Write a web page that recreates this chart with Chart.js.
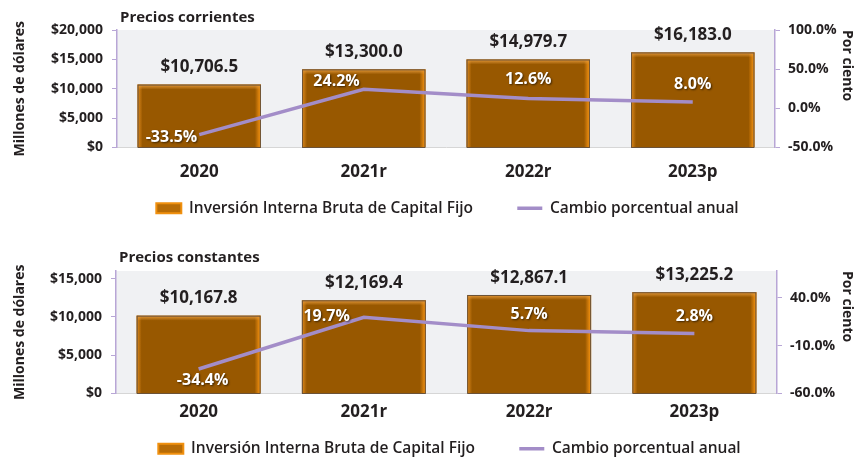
<!DOCTYPE html>
<html>
<head>
<meta charset="utf-8">
<script src="https://cdn.jsdelivr.net/npm/chart.js@4.4.1/dist/chart.umd.min.js"></script>
<style>
  html, body { margin: 0; padding: 0; background: #fff; overflow: hidden; width: 857px; height: 461px; }
  .box { position: absolute; left: 0; width: 895px; }
</style>
</head>
<body>
<div class="box" style="top:0;height:230px"><canvas id="chartCorrientes"></canvas></div>
<div class="box" style="top:230px;height:240px"><canvas id="chartConstantes"></canvas></div>
<script>
const categories = ['2020', '2021r', '2022r', '2023p'];

const corrientes = [10706.5, 13300.0, 14979.7, 16183.0];
const corrientesPct = [-33.5, 24.2, 12.6, 8.0];
const corrientesTicks = [0, 5000, 10000, 15000, 20000];
const corrientesPctTicks = [-50, 0, 50, 100];

const constantes = [10167.8, 12169.4, 12867.1, 13225.2];
const constantesPct = [-34.4, 19.7, 5.7, 2.8];
const constantesTicks = [0, 5000, 10000, 15000];
const constantesPctTicks = [-60, -10, 40];

const barLabel = 'Inversión Interna Bruta de Capital Fijo';
const lineLabel = 'Cambio porcentual anual';

const FONT = '"Open Sans", "DejaVu Sans", sans-serif';
const DARK = '#231f20';
const PURPLE = '#a38dc8';
const AXIS = '#b8a6d6';

// bevel look of the excel bars, drawn over each bar element
function bevelBars(chart, meta) {
    const ctx = chart.ctx;
    meta.data.forEach(function (bar) {
        const l = bar.x - bar.width / 2, r = bar.x + bar.width / 2;
        const t = Math.min(bar.y, bar.base), b = Math.max(bar.y, bar.base);
        ctx.save();
        let g = ctx.createLinearGradient(r - 6, 0, r, 0);
        g.addColorStop(0, 'rgba(255,150,20,0)');
        g.addColorStop(1, '#ff9a12');
        ctx.fillStyle = g;
        ctx.fillRect(r - 6, t, 6, b - t);
        g = ctx.createLinearGradient(l, 0, l + 5, 0);
        g.addColorStop(0, '#e08a1c');
        g.addColorStop(1, 'rgba(224,138,28,0)');
        ctx.fillStyle = g;
        ctx.fillRect(l, t, 5, b - t);
        g = ctx.createLinearGradient(0, t, 0, t + 5);
        g.addColorStop(0, '#e69a3a');
        g.addColorStop(1, 'rgba(230,154,58,0)');
        ctx.fillStyle = g;
        ctx.fillRect(l, t, r - l, 5);
        ctx.strokeStyle = '#6b5238';
        ctx.lineWidth = 1;
        ctx.strokeRect(l + 0.5, t + 0.5, r - l - 1, b - t);
        ctx.restore();
    });
}

const decoPlugin = {
    id: 'deco',
    afterLayout(chart, args, opts) {
        // the legend in the original sits a bit right of the canvas centre
        const lg = chart.legend;
        if (lg && !lg._shifted) {
            const draw = lg.draw;
            lg.draw = function () {
                chart.ctx.save();
                chart.ctx.translate(opts.legendShift, 0);
                draw.apply(this, arguments);
                chart.ctx.restore();
            };
            lg._shifted = true;
        }
    },
    beforeDraw(chart, args, opts) {
        const a = chart.chartArea, ctx = chart.ctx;
        ctx.save();
        ctx.fillStyle = '#f0f1f3';
        ctx.fillRect(a.left, a.top, a.right - a.left, a.bottom - a.top);
        ctx.fillStyle = DARK;
        ctx.font = 'bold 15px ' + FONT;
        ctx.textBaseline = 'middle';
        ctx.textAlign = 'left';
        ctx.fillText(opts.title, a.left + 3, opts.titleY);
        ctx.restore();
    },
    afterDatasetDraw(chart, args) {
        if (args.meta.type === 'bar') bevelBars(chart, args.meta);
    },
    afterDatasetsDraw(chart, args, opts) {
        const ctx = chart.ctx;
        const bars = chart.getDatasetMeta(0).data;
        const pts = chart.getDatasetMeta(1).data;
        const barVals = chart.data.datasets[0].data;
        const pctVals = chart.data.datasets[1].data;
        ctx.save();
        ctx.textBaseline = 'middle';
        ctx.font = 'bold 17px ' + FONT;
        ctx.fillStyle = DARK;
        ctx.textAlign = 'center';
        bars.forEach(function (bar, i) {
            const txt = '$' + barVals[i].toLocaleString('en-US', { minimumFractionDigits: 1, maximumFractionDigits: 1 });
            ctx.fillText(txt, bar.x, bar.y - 17);
        });
        ctx.font = 'bold 16px ' + FONT;
        ctx.fillStyle = '#fff';
        ctx.shadowColor = 'rgba(0,0,0,0.6)';
        ctx.shadowOffsetX = 1;
        ctx.shadowOffsetY = 1;
        ctx.shadowBlur = 2;
        pts.forEach(function (p, i) {
            const place = opts.pctPlace[i];
            ctx.textAlign = place[0];
            ctx.fillText(pctVals[i].toFixed(1) + '%', p.x + place[1], p.y + place[2]);
        });
        ctx.restore();
    }
};

function makeChart(id, cfg) {
    const ctx = document.getElementById(id);
    return new Chart(ctx.getContext('2d'), {
        type: 'bar',
        data: {
            labels: categories,
            datasets: [{
                label: barLabel,
                data: cfg.values,
                backgroundColor: '#985800',
                borderColor: '#e8890f',
                borderWidth: 0,
                barPercentage: 0.75,
                categoryPercentage: 1,
                pointStyle: 'rect',
                order: 1,
                yAxisID: 'y'
            }, {
                type: 'line',
                label: lineLabel,
                data: cfg.pct,
                borderColor: PURPLE,
                backgroundColor: PURPLE,
                borderWidth: 3.5,
                pointRadius: 0,
                pointStyle: 'line',
                tension: 0,
                order: 0,
                yAxisID: 'y1'
            }]
        },
        options: {
            responsive: true,
            maintainAspectRatio: false,
            animation: false,
            devicePixelRatio: 1,
            layout: { padding: { top: cfg.top, right: 40, bottom: cfg.bottomPad, left: 0 } },
            scales: {
                x: {
                    grid: { display: false, drawTicks: false },
                    border: { color: '#d6d6d6', width: 1 },
                    ticks: { color: DARK, font: { family: FONT, size: 17, weight: 'bold' }, padding: cfg.xPad },
                    afterFit: function (s) { s.height = cfg.xHeight; }
                },
                y: {
                    position: 'left',
                    min: 0,
                    max: cfg.yMax,
                    afterBuildTicks: function (s) { s.ticks = cfg.ticks.map(v => ({ value: v })); },
                    grid: { drawOnChartArea: false, color: AXIS, tickLength: 5, tickColor: AXIS },
                    border: { color: AXIS, width: 1.5 },
                    ticks: {
                        color: DARK, padding: 9,
                        font: { family: FONT, size: 14, weight: 'bold' },
                        callback: v => '$' + v.toLocaleString('en-US')
                    },
                    title: {
                        display: true, text: 'Millones de dólares', color: DARK,
                        font: { family: FONT, size: 14, weight: 'bold' }, padding: 12
                    },
                    afterFit: function (s) { s.width = cfg.leftW; }
                },
                y1: {
                    position: 'right',
                    min: cfg.pctMin,
                    max: cfg.pctMax,
                    afterBuildTicks: function (s) { s.ticks = cfg.pctTicks.map(v => ({ value: v })); },
                    grid: { drawOnChartArea: false, color: AXIS, tickLength: 5, tickColor: AXIS },
                    border: { color: AXIS, width: 1.5 },
                    ticks: {
                        color: DARK, padding: 8,
                        font: { family: FONT, size: 14, weight: 'bold' },
                        callback: v => v.toFixed(1) + '%'
                    },
                    title: {
                        display: true, text: 'Por ciento', color: DARK, align: 'end',
                        font: { family: FONT, size: 14, weight: 'bold' }, padding: 0
                    },
                    afterFit: function (s) { s.width = cfg.rightW; }
                }
            },
            plugins: {
                legend: {
                    position: 'bottom',
                    labels: {
                        usePointStyle: true,
                        pointStyleWidth: 25,
                        boxHeight: 10,
                        padding: 8,
                        color: DARK,
                        font: { family: FONT, size: 15.5, weight: '600' },
                        sort: (a, b) => a.datasetIndex - b.datasetIndex,
                        generateLabels: function (chart) {
                            const items = Chart.defaults.plugins.legend.labels.generateLabels(chart);
                            items.forEach(function (it) {
                                if (it.datasetIndex === 0) {
                                    it.fillStyle = '#b86c06';
                                    it.strokeStyle = '#f0900f';
                                    it.lineWidth = 2;
                                    it.text = it.text + '         ';
                                }
                            });
                            return items;
                        }
                    }
                },
                tooltip: { enabled: false },
                deco: { title: cfg.title, titleY: cfg.titleY, pctPlace: cfg.pctPlace, legendShift: cfg.legendShift }
            }
        },
        plugins: [decoPlugin]
    });
}

makeChart('chartCorrientes', {
    values: corrientes, pct: corrientesPct, ticks: corrientesTicks, pctTicks: corrientesPctTicks,
    yMax: 20000, pctMin: -50, pctMax: 100,
    title: 'Precios corrientes', titleY: 18,
    top: 30, bottomPad: 4, xHeight: 45, xPad: 14, leftW: 117, rightW: 80, legendShift: 20,
    pctPlace: [['right', -2, 3], ['right', -4, -8], ['center', 0, -19], ['center', 0, -18]]
});

makeChart('chartConstantes', {
    values: constantes, pct: constantesPct, ticks: constantesTicks, pctTicks: constantesPctTicks,
    yMax: 16000, pctMin: -60, pctMax: 68,
    title: 'Precios constantes', titleY: 28,
    top: 41, bottomPad: 3.5, xHeight: 39.5, xPad: 8, leftW: 116, rightW: 78, legendShift: 22,
    pctPlace: [['center', 4, 11], ['right', -14, -1], ['center', 0, -16], ['center', 0, -17]]
});
</script>
</body>
</html>
